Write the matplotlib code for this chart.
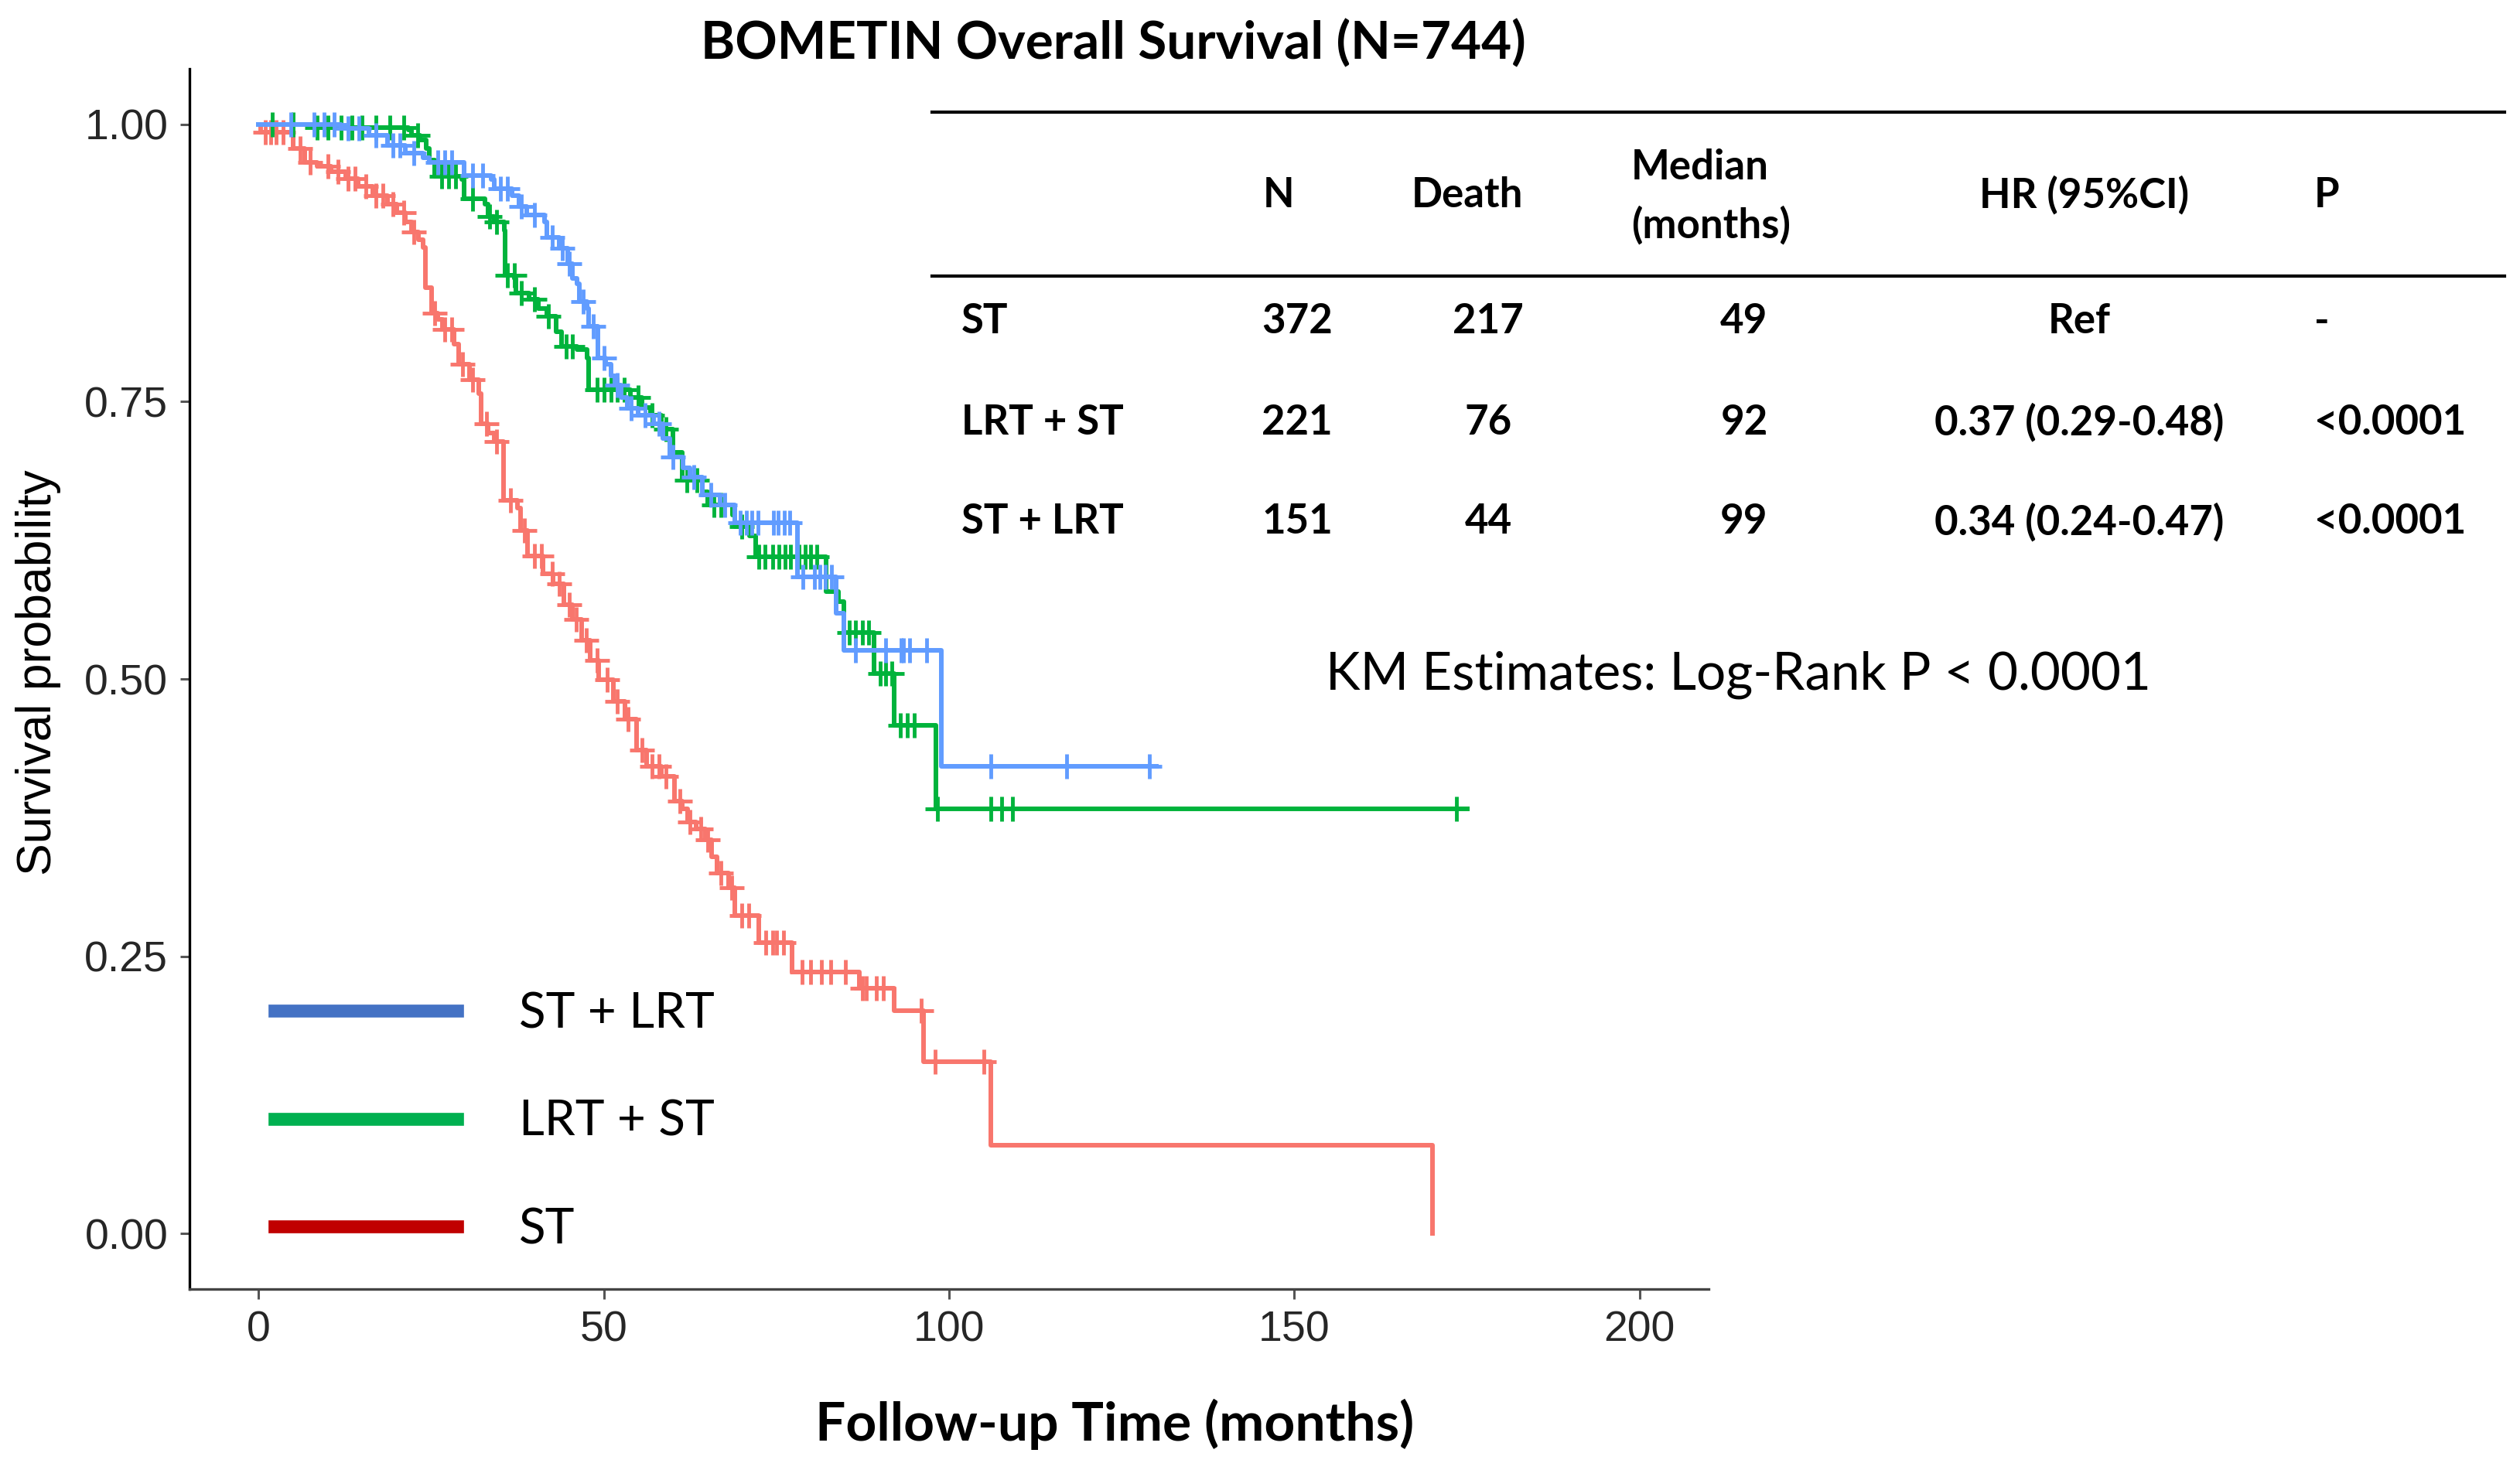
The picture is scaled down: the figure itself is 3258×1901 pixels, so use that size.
import numpy as np
import matplotlib
matplotlib.use('Agg')
import matplotlib.pyplot as plt
from matplotlib.lines import Line2D

# %% data (time in months, survival after each drop)
red_t = [0.3, 5.0, 6.7, 8.5, 10.5, 12.6, 14.4, 16.6, 18.7, 20.0, 21.3, 22.1, 23.2, 23.8,
         24.2, 25.1, 26.0, 26.6, 28.3, 29.0, 30.6, 31.9, 32.2, 33.2, 34.1, 35.5, 37.5, 37.9,
         39.0, 41.2, 42.6, 44.2, 45.4, 46.8, 48.0, 49.3, 51.4, 53.1, 54.8, 56.2, 58.3, 60.2,
         61.3, 62.1, 63.4, 64.7, 65.6, 66.4, 68.1, 69.0, 72.4, 77.3, 87.0, 92.0, 96.3, 106.0,
         170.0]
red_s = [0.993, 0.978, 0.966, 0.962, 0.957, 0.951, 0.944, 0.936, 0.928, 0.920, 0.912, 0.903,
         0.896, 0.889, 0.853, 0.830, 0.824, 0.815, 0.802, 0.784, 0.770, 0.757, 0.730, 0.722,
         0.714, 0.661, 0.654, 0.634, 0.611, 0.595, 0.586, 0.567, 0.554, 0.535, 0.517, 0.499,
         0.480, 0.464, 0.436, 0.421, 0.412, 0.390, 0.383, 0.371, 0.365, 0.355, 0.340, 0.325,
         0.312, 0.287, 0.262, 0.236, 0.221, 0.201, 0.155, 0.080, 0.0]
red_c = [1.0, 1.8, 2.5, 3.5, 6.0, 7.5, 10, 11.5, 13, 14, 15.5, 17, 18, 19.5, 21, 22.5, 25.5,
         27, 28, 29.5, 31, 33, 34.5, 36.5, 38.5, 40, 41, 42.5, 43.5, 45, 46, 47.5, 49, 50.5,
         52, 53.5, 55.5, 57, 58, 59, 61, 62.5, 64, 65, 67, 68.5, 70, 71, 73.5, 74.5, 75, 76,
         78.7, 80, 81.5, 82.9, 85, 87.5, 88, 89.5, 90.5, 96, 98, 105]
red_end = 170.0

green_t = [8.0, 21.7, 22.1, 23.4, 24.3, 24.7, 25.5, 29.4, 29.8, 32.8, 33.2, 34.1, 35.6, 35.7,
           37.1, 37.3, 39.2, 40.5, 41.8, 43.1, 43.9, 46.1, 47.6, 47.8, 53.8, 55.5, 56.8, 58.3,
           60.0, 61.3, 64.3, 65.1, 68.6, 69.0, 71.1, 72.0, 82.2, 84.0, 84.8, 89.1, 92.0, 98.1]
green_s = [0.997, 0.995, 0.990, 0.986, 0.978, 0.968, 0.953, 0.950, 0.933, 0.928, 0.917, 0.912,
           0.904, 0.864, 0.861, 0.848, 0.842, 0.834, 0.827, 0.813, 0.800, 0.797, 0.789, 0.761,
           0.754, 0.745, 0.738, 0.725, 0.704, 0.679, 0.669, 0.657, 0.648, 0.637, 0.629, 0.610,
           0.579, 0.570, 0.542, 0.505, 0.458, 0.383]
green_c = [2, 5, 8.5, 10, 12, 13.5, 15, 17, 19, 21, 23, 26.5, 27.5, 28.5, 31, 33.5, 34.5, 36,
           37, 38, 40, 42, 44.5, 45.5, 49, 50, 51, 52, 53, 55, 57, 59, 62, 63.5, 66, 67, 70,
           72.4, 73.3, 74.5, 75.4, 76.2, 77, 78.3, 79.2, 80, 80.8, 85.6, 86.5, 87.4, 88.3, 90,
           90.8, 91.7, 92.9, 94, 95, 98.3, 106, 107.6, 109.2, 173.5]
green_end = 175.0

blue_t = [12.0, 16.0, 18.7, 21.3, 23.8, 24.7, 29.8, 33.7, 34.1, 36.7, 37.7, 38.8, 41.4, 41.8,
          43.5, 44.8, 45.4, 46.1, 46.5, 47.6, 47.8, 49.1, 49.2, 50.3, 51.0, 51.6, 52.5, 53.4,
          55.0, 57.2, 58.5, 59.6, 61.5, 62.5, 64.3, 66.8, 69.0, 78.0, 83.6, 84.8, 98.9]
blue_s = [0.996, 0.990, 0.981, 0.974, 0.970, 0.966, 0.954, 0.950, 0.942, 0.936, 0.926, 0.918,
          0.912, 0.898, 0.888, 0.874, 0.861, 0.856, 0.840, 0.834, 0.818, 0.814, 0.789, 0.784,
          0.773, 0.765, 0.754, 0.744, 0.738, 0.730, 0.717, 0.700, 0.690, 0.682, 0.666, 0.657,
          0.641, 0.592, 0.559, 0.526, 0.421]
blue_c = [4.7, 8, 9.5, 11, 13, 14.5, 17, 19.5, 20.5, 22.5, 26, 27, 28, 31, 32.5, 35, 36, 38,
          40, 42.5, 44, 45, 47, 48.5, 50, 52, 54, 56, 58, 60, 63, 65.5, 67.5, 69.8, 70.6, 71.4,
          72.3, 74.6, 75.3, 76.1, 76.9, 78.8, 80.5, 81.3, 82.1, 83.0, 86.5, 90.8, 93.0, 93.4,
          94.3, 96.8, 106, 117, 129]
blue_end = 130.0

# table
groups = ['ST', 'LRT + ST', 'ST + LRT']
n_pat = [372, 221, 151]
deaths = [217, 76, 44]
medians = [49, 92, 99]
hr_ci = ['Ref', '0.37 (0.29-0.48)', '0.34 (0.24-0.47)']
p_vals = ['-', '<0.0001', '<0.0001']

legend_labels = ['ST + LRT', 'LRT + ST', 'ST']
legend_colors = ['#4472C4', '#00B050', '#C00000']

# %% plot
W, H = 3258, 1901
fig = plt.figure(figsize=(W / 100, H / 100), dpi=100)
ax = fig.add_axes([245 / W, 1 - 1667 / H, (2209 - 245) / W, (1667 - 89) / H])

cal = 'Lato'
ari = 'Liberation Sans'


def surv_at(tc, t, s):
    idx = np.searchsorted(t, tc, side='right')
    return np.where(idx == 0, 1.0, np.asarray(s)[np.maximum(idx - 1, 0)])


curves = [
    (red_t, red_s, red_c, red_end, '#F8766D'),
    (green_t, green_s, green_c, green_end, '#00B33C'),
    (blue_t, blue_s, blue_c, blue_end, '#619CFF'),
]
for t, s, c, tend, col in curves:
    tt = np.r_[0, t, tend]
    ss = np.r_[1.0, s, s[-1]]
    ax.step(tt, ss, where='post', color=col, lw=4.3)
    ax.plot(c, surv_at(np.array(c), np.array(t), s), ls='none', marker='+',
            ms=23, mew=3.5, color=col)

ax.set_xlim(-10, 210)
ax.set_ylim(-0.05, 1.05)
ax.set_xticks([0, 50, 100, 150, 200])
ax.set_yticks([0, 0.25, 0.5, 0.75, 1.0])
ax.set_yticklabels(['0.00', '0.25', '0.50', '0.75', '1.00'])
for sp in ['top', 'right']:
    ax.spines[sp].set_visible(False)
ax.spines['left'].set_linewidth(2.4)
ax.spines['left'].set_color('black')
ax.spines['bottom'].set_linewidth(2.4)
ax.spines['bottom'].set_color('#444444')
ax.tick_params(length=9, width=2.2, color='#555555', pad=11, labelsize=40,
               labelcolor='#262626')
for lab in ax.get_xticklabels() + ax.get_yticklabels():
    lab.set_fontfamily(ari)

ax.set_ylabel('Survival probability', fontsize=45, fontfamily=ari)
ax.yaxis.set_label_coords(-0.0845, 0.505)
ax.set_xlabel('Follow-up Time (months)', fontsize=50, fontfamily=cal, fontweight='bold')
ax.xaxis.set_label_coords(0.609, -0.09)

handles = [Line2D([], [], color=c, lw=12) for c in legend_colors]
ax.legend(handles, legend_labels, loc='lower left', bbox_to_anchor=(0.056, 0.03),
          frameon=False, borderpad=0, borderaxespad=0, handlelength=3.7,
          handletextpad=1.24, labelspacing=1.28, prop={'family': cal, 'size': 46})

# title and annotations
fig.text(1439 / W, 1 - 57 / H, 'BOMETIN Overall Survival (N=744)', ha='center', va='center',
         fontsize=48.5, fontweight='bold', fontfamily=cal)
fig.text(2247 / W, 1 - 873 / H, 'KM Estimates: Log-Rank P < 0.0001', ha='center',
         va='center', fontsize=48.5, fontfamily=cal)

# summary table
for y in [145, 357]:
    fig.add_artist(Line2D([1205 / W, 3238 / W], [1 - y / H, 1 - y / H], color='black', lw=3))

tk = dict(fontsize=38, fontweight='bold', fontfamily=cal, va='center')
hy = 1 - 252 / H
fig.text(1633 / W, hy, 'N', ha='left', **tk)
fig.text(1897 / W, hy, 'Death', ha='center', **tk)
fig.text(2109 / W, 1 - 216 / H, 'Median', ha='left', **tk)
fig.text(2109 / W, 1 - 291 / H, '(months)', ha='left', **tk)
fig.text(2695 / W, hy, 'HR (95%CI)', ha='center', **tk)
fig.text(2992 / W, hy, 'P', ha='left', **tk)

row_y = [415, 546, 675]
for i, g in enumerate(groups):
    y = 1 - row_y[i] / H
    fig.text(1243 / W, y, g, ha='left', **tk)
    fig.text(1677 / W, y, str(n_pat[i]), ha='center', **tk)
    fig.text(1924 / W, y, str(deaths[i]), ha='center', **tk)
    fig.text(2255 / W, y, str(medians[i]), ha='center', **tk)
    fig.text(2688 / W, y, hr_ci[i], ha='center', **tk)
    fig.text(2992 / W, y, p_vals[i], ha='left', **tk)

fig.savefig('out.png', dpi=100, facecolor='white')
